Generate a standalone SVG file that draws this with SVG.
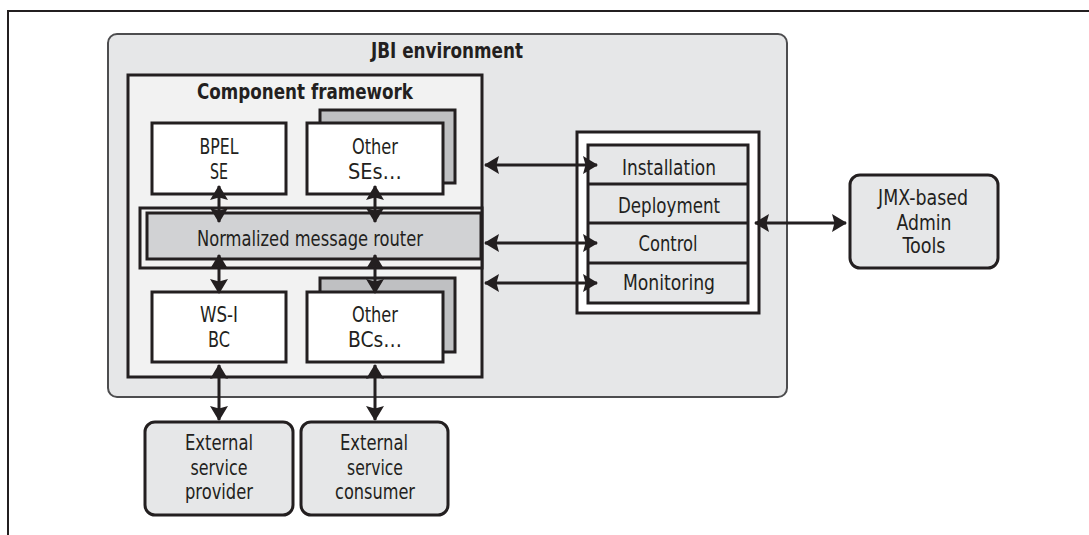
<svg xmlns="http://www.w3.org/2000/svg" width="1089" height="535" viewBox="0 0 1089 535">
  <style>
    .t { font-family: "DejaVu Sans Condensed", "DejaVu Sans", sans-serif; font-stretch: condensed; font-size: 22px; fill: #231f20; text-anchor: middle; }
    .b { font-weight: bold; }
    .box { stroke: #231f20; stroke-width: 3; }
    .white { fill: #ffffff; }
    .light { fill: #f2f2f2; }
    .pale { fill: #e6e7e8; }
    .mid { fill: #d1d2d4; }
    .shade { fill: #bfc0c2; }
    .conn { stroke: #231f20; stroke-width: 3; fill: none; marker-start: url(#ah); marker-end: url(#ah); }
  </style>
  <defs>
    <marker id="ah" viewBox="0 0 15 18" refX="14" refY="9" markerWidth="15" markerHeight="18" markerUnits="userSpaceOnUse" orient="auto-start-reverse">
      <path d="M0,0 L15,9 L0,18 L2.5,9 Z" fill="#231f20"/>
    </marker>
  </defs>

  <rect width="1089" height="535" fill="#ffffff"/>
  <!-- page frame -->
  <path d="M8,535 L8,11 L1089,11" fill="none" stroke="#231f20" stroke-width="2"/>

  <g id="jbi-environment">
    <rect x="108" y="34" width="679" height="363" rx="9" fill="#e6e7e8" stroke="#4d4d4f" stroke-width="2"/>
    <text class="t b" x="447" y="58" textLength="152" lengthAdjust="spacingAndGlyphs">JBI environment</text>
  </g>

  <g id="component-framework">
    <rect class="box light" x="128" y="75" width="354" height="302"/>
    <text class="t b" x="305" y="99" textLength="216" lengthAdjust="spacingAndGlyphs">Component framework</text>
  </g>

  <g id="bpel-se">
    <rect class="box white" x="152" y="123" width="134" height="71"/>
    <text class="t" x="219" y="154" textLength="39" lengthAdjust="spacingAndGlyphs">BPEL</text>
    <text class="t" x="219" y="179" textLength="18" lengthAdjust="spacingAndGlyphs">SE</text>
  </g>

  <g id="other-ses">
    <rect class="box shade" x="320" y="110" width="135" height="73"/>
    <rect class="box white" x="307" y="123" width="136" height="71"/>
    <text class="t" x="375" y="154" textLength="46" lengthAdjust="spacingAndGlyphs">Other</text>
    <text class="t" x="375" y="179" textLength="54" lengthAdjust="spacingAndGlyphs">SEs…</text>
  </g>

  <g id="normalized-message-router">
    <rect class="box light" x="140" y="208" width="342" height="60"/>
    <rect class="box mid" x="147" y="213" width="334" height="46"/>
    <text class="t" x="310" y="246" textLength="226" lengthAdjust="spacingAndGlyphs">Normalized message router</text>
  </g>

  <g id="ws-i-bc">
    <rect class="box white" x="152" y="292" width="134" height="70"/>
    <text class="t" x="219" y="322" textLength="38" lengthAdjust="spacingAndGlyphs">WS-I</text>
    <text class="t" x="219" y="347" textLength="22" lengthAdjust="spacingAndGlyphs">BC</text>
  </g>

  <g id="other-bcs">
    <rect class="box shade" x="320" y="278" width="135" height="74"/>
    <rect class="box white" x="307" y="292" width="136" height="70"/>
    <text class="t" x="375" y="322" textLength="46" lengthAdjust="spacingAndGlyphs">Other</text>
    <text class="t" x="375" y="347" textLength="54" lengthAdjust="spacingAndGlyphs">BCs…</text>
  </g>

  <g id="management">
    <rect class="box white" x="577" y="132" width="182" height="181"/>
    <rect class="box pale" x="588" y="145" width="160" height="158"/>
    <line class="box" x1="588" y1="184" x2="748" y2="184"/>
    <line class="box" x1="588" y1="223" x2="748" y2="223"/>
    <line class="box" x1="588" y1="263" x2="748" y2="263"/>
    <text class="t" x="669" y="175" textLength="94" lengthAdjust="spacingAndGlyphs">Installation</text>
    <text class="t" x="669" y="213" textLength="102" lengthAdjust="spacingAndGlyphs">Deployment</text>
    <text class="t" x="668" y="251" textLength="59" lengthAdjust="spacingAndGlyphs">Control</text>
    <text class="t" x="669" y="290" textLength="92" lengthAdjust="spacingAndGlyphs">Monitoring</text>
  </g>

  <g id="jmx-admin-tools">
    <rect class="box pale" x="850" y="175" width="148" height="93" rx="10"/>
    <text class="t" x="923" y="205" textLength="90" lengthAdjust="spacingAndGlyphs">JMX-based</text>
    <text class="t" x="924" y="230" textLength="55" lengthAdjust="spacingAndGlyphs">Admin</text>
    <text class="t" x="924" y="253" textLength="43" lengthAdjust="spacingAndGlyphs">Tools</text>
  </g>

  <g id="external-provider">
    <rect class="box pale" x="145" y="422" width="148" height="93" rx="10"/>
    <text class="t" x="219" y="450" textLength="68" lengthAdjust="spacingAndGlyphs">External</text>
    <text class="t" x="219" y="475" textLength="57" lengthAdjust="spacingAndGlyphs">service</text>
    <text class="t" x="219" y="499" textLength="68" lengthAdjust="spacingAndGlyphs">provider</text>
  </g>

  <g id="external-consumer">
    <rect class="box pale" x="301" y="422" width="147" height="93" rx="10"/>
    <text class="t" x="374" y="450" textLength="68" lengthAdjust="spacingAndGlyphs">External</text>
    <text class="t" x="375" y="475" textLength="56" lengthAdjust="spacingAndGlyphs">service</text>
    <text class="t" x="375" y="499" textLength="80" lengthAdjust="spacingAndGlyphs">consumer</text>
  </g>

  <g id="connectors">
    <line class="conn" x1="219" y1="186" x2="219" y2="222"/>
    <line class="conn" x1="375" y1="186" x2="375" y2="222"/>
    <line class="conn" x1="219" y1="255" x2="219" y2="293"/>
    <line class="conn" x1="375" y1="255" x2="375" y2="293"/>
    <line class="conn" x1="219" y1="365" x2="219" y2="420"/>
    <line class="conn" x1="375" y1="365" x2="375" y2="420"/>
    <line class="conn" x1="485" y1="165" x2="597" y2="165"/>
    <line class="conn" x1="485" y1="243" x2="597" y2="243"/>
    <line class="conn" x1="485" y1="283" x2="597" y2="283"/>
    <line class="conn" x1="755" y1="223" x2="846" y2="223"/>
  </g>
</svg>
